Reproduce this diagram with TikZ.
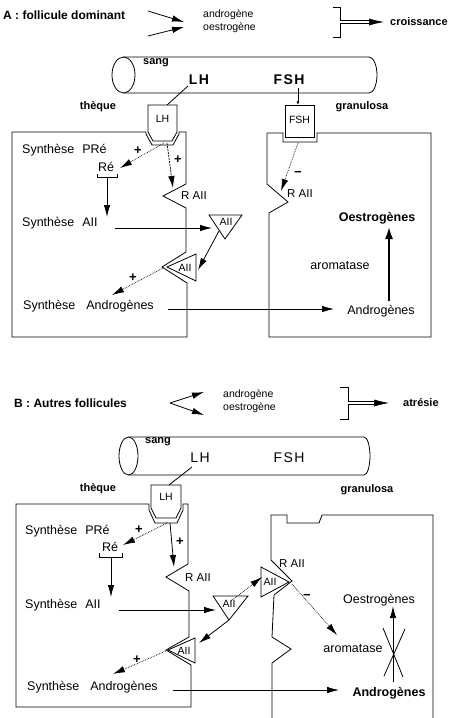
\documentclass[tikz,border=0pt]{standalone}
\usepackage{fontspec}
\setmainfont{Liberation Sans}
\usetikzlibrary{arrows.meta}
\begin{document}
\begin{tikzpicture}[x=1pt,y=-1pt,
  ln/.style={line width=0.8pt},
  arr/.style={-{Latex[length=12pt,width=6.5pt]}, line width=0.8pt},
  dotarr/.style={densely dotted, line width=0.7pt, -{Latex[length=12pt,width=6.5pt]}},
  dasharr/.style={dash pattern=on 2pt off 1pt, line width=0.7pt, -{Latex[length=12pt,width=6.5pt]}},
  dblarr/.style={double, double distance=2pt, line width=0.6pt, -{Latex[length=15pt,width=7pt]}},
  lbl/.style={font=\fontsize{12.5}{14}\selectfont, inner sep=0pt},
  sml/.style={font=\fontsize{10.5}{12}\selectfont, inner sep=0pt},
  rlab/.style={font=\fontsize{11.5}{13}\selectfont, inner sep=0pt},
  smb/.style={font=\fontsize{11}{13}\selectfont\bfseries, inner sep=0pt},
  ttl/.style={font=\fontsize{12}{14}\selectfont\bfseries, inner sep=0pt},
  bigb/.style={font=\fontsize{14}{16}\selectfont\bfseries, inner sep=0pt},
  bigr/.style={font=\fontsize{14}{16}\selectfont, inner sep=0pt},
  lblb/.style={font=\fontsize{12.5}{14}\selectfont\bfseries, inner sep=0pt},
  sign/.style={font=\fontsize{13}{14}\selectfont\bfseries, inner sep=0pt},
  tri/.style={line width=0.8pt}]
\useasboundingbox (0,0) rectangle (457,718);

%================ A =================
\node[ttl, anchor=west] (titA) at (3,15) {A : follicule dominant};
\coordinate (ha1) at (148,11); \coordinate (ha1e) at (184,22);
\coordinate (ha2) at (148,36); \coordinate (ha2e) at (184,27);
\draw[arr] (ha1) -- (ha1e);
\draw[arr] (ha2) -- (ha2e);
\node[sml, anchor=west] (andA) at (203,15) {androgène};
\node[sml, anchor=west] (oesA) at (203,28) {oestrogène};
\draw[ln] (333,7) -- (340,7) -- (340,37) -- (333,37);
\coordinate (brA) at (340,22); \coordinate (brAe) at (384,22);
\draw[dblarr] (brA) -- (brAe);
\node[smb, anchor=west] (croi) at (390,22) {croissance};

% cylinder
\draw[ln] (123.5,57) -- (369,57) arc[start angle=-90, end angle=90, x radius=8, y radius=18] -- (123.5,93);
\draw[ln] (123.5,75) ellipse[x radius=11.5, y radius=18];
\node[smb, anchor=west] (sangA) at (143,63) {sang};
\node[bigb] (LHA) at (199,80) {L\kern1.5ptH};
\node[bigb] (FSHA) at (289,80) {F\kern1.5ptS\kern1.5ptH};
\node[smb] (thA) at (98,107) {thèque};
\node[smb] (grA) at (362,107) {granulosa};

% LH receptor box A
\draw[ln] (148,105) -- (177,105) -- (177,132) -- (172,141) -- (153,141) -- (148,132) -- cycle;
\node[sml] (lhbA) at (162.5,119) {LH};
\coordinate (lhAs) at (188,86); \coordinate (lhAtop) at (167,105);
\draw[ln] (lhAs) -- (lhAtop);

% theque A membrane
\draw[ln] (12,337) -- (12,132) -- (146,132) -- (146,134) -- (152,145) -- (173,145) -- (179,134) -- (179,132) -- (186,132) -- (186,184) -- (163,196) -- (186,208) -- (186,252) -- (162,267) -- (187,283) -- (187,337) -- cycle;
\node[rlab] (raA) at (194,196) {R AII};

% FSH box A
\draw[ln] (285,105) rectangle (314,137);
\node[sml] (fsbA) at (299.5,120) {FSH};
\coordinate (fsAs) at (298,88); \coordinate (fsAe) at (298,105);
\draw[line width=0.6pt, -{Latex[length=4pt,width=3pt]}] (fsAs) -- (fsAe);

% granulosa A
\draw[ln] (269,337) -- (269,213) -- (288,202) -- (267,184) -- (267,133) -- (283,133) -- (283,142) -- (317,142) -- (317,133) -- (431,133) -- (431,337) -- cycle;
\node[rlab] (ra2A) at (300,194) {R AII};

% triangles A
\draw[tri] (209,215) -- (242,215) -- (225,239) -- cycle;
\node[sml] (t1A) at (226,222) {AII};
\draw[tri] (167,267) -- (196,254) -- (196,281) -- cycle;
\node[sml] (t2A) at (185,267.5) {AII};

% texts theque A
\node[lbl, anchor=west] (spA) at (22,150) {Synthèse\hspace{8pt}PRé};
\node[lbl] (reA) at (106,167) {Ré};
\node[lbl, anchor=west] (saA) at (22,223) {Synthèse\hspace{8pt}AII};
\node[lbl, anchor=west] (sanA) at (23,306) {Synthèse\hspace{11pt}Androgènes};
\node[sign] (p1A) at (138,151) {+};
\node[sign] (p2A) at (178,160) {+};
\node[sign] (p3A) at (133,278) {+};

\coordinate (lhbotA1) at (164,143); \coordinate (reAe) at (120,168);
\draw[dotarr] (lhbotA1) -- (reAe);
\draw[ln] (97,174) -- (97,177) -- (117,177) -- (117,174);
\coordinate (reAb) at (107,177); \coordinate (saAt) at (107,217);
\draw[arr] (reAb) -- (saAt);
\coordinate (lhbotA2) at (167,143); \coordinate (raAt) at (173,188);
\draw[dasharr] (lhbotA2) -- (raAt);
\coordinate (saAr) at (115,228); \coordinate (t1Al) at (212,228);
\draw[arr] (saAr) -- (t1Al);
\coordinate (t1Ab) at (219,231); \coordinate (t2Ar) at (198,270);
\draw[arr] (t1Ab) -- (t2Ar);
\coordinate (t2Al) at (163,268); \coordinate (sanAt) at (112,295);
\draw[dotarr] (t2Al) -- (sanAt);
\coordinate (sanAr) at (168,309); \coordinate (anAl) at (334,309);
\draw[arr] (sanAr) -- (anAl);

% granulosa A texts
\node[sign] (mA) at (298,174) {\textminus};
\coordinate (fsbAb) at (298,143); \coordinate (ra2At) at (281,191);
\draw[dotarr] (fsbAb) -- (ra2At);
\node[lblb] (oeA) at (377,218) {Oestrogènes};
\node[lbl] (arA) at (340,266) {aromatase};
\node[lbl] (anA) at (381,311) {Androgènes};
\coordinate (anAt) at (389,301); \coordinate (oeAb) at (389,226);
\draw[line width=2.5pt, -{Latex[length=13pt,width=8pt]}] (anAt) -- (oeAb);

%================ B =================
\node[ttl, anchor=west] (titB) at (14,403) {B : Autres follicules};
\coordinate (hb0) at (170,403); \coordinate (hb1) at (204,392); \coordinate (hb2) at (204,415);
\draw[arr] (hb0) -- (hb1);
\draw[arr] (hb0) -- (hb2);
\node[sml, anchor=west] (andB) at (223,395) {androgène};
\node[sml, anchor=west] (oesB) at (223,408) {oestrogène};
\draw[ln] (340,387) -- (348,387) -- (348,419) -- (340,419);
\coordinate (brB) at (348,403); \coordinate (brBe) at (389,403);
\draw[dblarr] (brB) -- (brBe);
\node[smb, anchor=west] (atr) at (403,403) {atrésie};

% cylinder B
\draw[ln] (128.5,437) -- (364,437) arc[start angle=-90, end angle=90, x radius=6, y radius=19] -- (128.5,475);
\draw[ln] (128.5,456) ellipse[x radius=9.5, y radius=19];
\node[smb, anchor=west] (sangB) at (145,442) {sang};
\node[bigr] (LHB) at (200,458) {L\kern1.5ptH};
\node[bigr] (FSHB) at (289,458) {F\kern1.5ptS\kern1.5ptH};
\node[smb] (thB) at (98,489) {thèque};
\node[smb] (grB) at (367,490) {granulosa};

% LH box B
\draw[ln] (151,485) -- (181,485) -- (181,508) -- (176,518) -- (156,518) -- (151,508) -- cycle;
\node[sml] (lhbB) at (166,497) {LH};
\coordinate (lhBs) at (192,467); \coordinate (lhBtop) at (169,485);
\draw[ln] (lhBs) -- (lhBtop);

% theque B membrane
\draw[ln] (16,707) -- (16,504) -- (149,504) -- (149,510) -- (155,523) -- (177,523) -- (183,510) -- (183,504) -- (188,504) -- (188,564) -- (166,577) -- (189,591) -- (189,637) -- (166,650) -- (191,665) -- (191,707) -- cycle;
\node[rlab] (raB) at (198,578) {R AII};

% granulosa B
\draw[ln] (272,725) -- (272,663) -- (291,649) -- (272,637) -- (274,595) -- (292,581) -- (271,560) -- (271,515) -- (287,515) -- (287,523) -- (319,523) -- (322,515) -- (433,515) -- (433,725);
\node[rlab] (ra2B) at (292,564) {R AII};

% triangles B
\draw[tri] (213,596) -- (248,596) -- (229,620) -- cycle;
\node[sml] (t1B) at (229,604) {AII};
\draw[tri] (168,650) -- (195,638) -- (195,663) -- cycle;
\node[sml] (t2B) at (184,650.5) {AII};
\draw[tri] (261,567) -- (261,597) -- (289,582) -- cycle;
\node[sml] (t3B) at (270,582) {AII};

% texts theque B
\node[lbl, anchor=west] (spB) at (25,531) {Synthèse\hspace{8pt}PRé};
\node[lbl] (reB) at (110,547) {Ré};
\node[lbl, anchor=west] (saB) at (25,605) {Synthèse\hspace{8pt}AII};
\node[lbl, anchor=west] (sanB) at (27,687) {Synthèse\hspace{11pt}Androgènes};
\node[sign] (p1B) at (139,530) {+};
\node[sign] (p2B) at (180,542) {+};
\node[sign] (p3B) at (137,660) {+};

\coordinate (lhbotB1) at (167,523); \coordinate (reBe) at (123,545);
\draw[dotarr] (lhbotB1) -- (reBe);
\draw[ln] (99,553) -- (99,557) -- (122,557) -- (122,553);
\coordinate (reBb) at (111,557); \coordinate (saBt) at (111,597);
\draw[arr] (reBb) -- (saBt);
\coordinate (lhbotB2) at (170,523); \coordinate (raBt) at (174,567);
\draw[arr] (lhbotB2) -- (raBt);
\coordinate (saBr) at (119,610); \coordinate (t1Bl) at (216,610);
\draw[arr] (saBr) -- (t1Bl);
\coordinate (t1Bb) at (229,620); \coordinate (t2Br) at (199,643);
\draw[arr] (t1Bb) -- (t2Br);
\coordinate (t1Bt) at (231,601); \coordinate (t3Bl) at (262,577);
\draw[dotarr] (t1Bt) -- (t3Bl);
\coordinate (t2Bl) at (166,651); \coordinate (sanBt) at (113,674);
\draw[dotarr] (t2Bl) -- (sanBt);
\coordinate (sanBr) at (173,690); \coordinate (anBl) at (339,690);
\draw[arr] (sanBr) -- (anBl);

% granulosa B texts
\node[sign] (mB) at (307,597) {\textminus};
\coordinate (t3Br) at (292,584); \coordinate (arBt) at (337,635);
\draw[dotarr] (t3Br) -- (arBt);
\node[lbl] (oeB) at (379,600) {Oestrogènes};
\node[lbl] (arB) at (353,649) {aromatase};
\node[lblb] (anB) at (389,693) {Androgènes};
\coordinate (anBt) at (393,682); \coordinate (oeBb) at (393,606);
\draw[line width=1pt, -{Latex[length=12pt,width=6.5pt]}] (anBt) -- (oeBb);
\draw[ln] (383,628) -- (403,677);
\draw[ln] (405,629) -- (384,676);
\end{tikzpicture}
\end{document}
